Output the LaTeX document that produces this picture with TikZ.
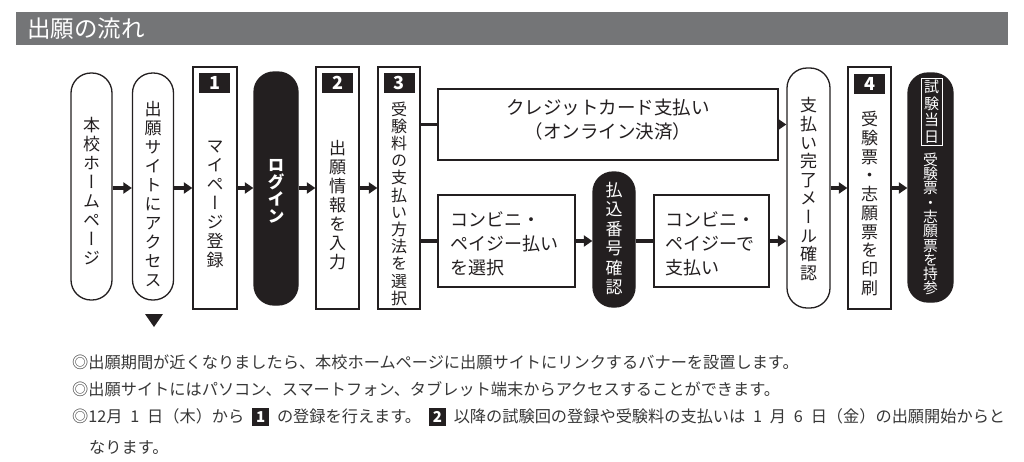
\documentclass[tikz,border=0pt]{standalone}
\usepackage{fontspec}
\setmainfont{Noto Sans CJK JP}
\newfontfamily\vf[RawFeature=+vert]{Noto Sans CJK JP}
\usetikzlibrary{arrows.meta}
\definecolor{barg}{RGB}{116,117,119}
\definecolor{ink}{RGB}{35,31,32}
\definecolor{txt}{RGB}{55,55,55}
\newcommand\inlab[1]{{\setlength\fboxsep{1.5pt}\colorbox{ink}{\makebox[14pt]{\rule[-2.5pt]{0pt}{15pt}\textcolor{white}{\bfseries\fontsize{15}{15}\selectfont #1}}}}}
\tikzset{
 pill/.style={draw=ink, line width=1.3pt, rounded corners=20pt, fill=white, inner sep=0pt},
 pillb/.style={pill, fill=ink},
 rbox/.style={draw=ink, line width=1.3pt, fill=white, inner sep=0pt},
 numlab/.style={fill=ink, text=white, font=\bfseries\fontsize{18}{18}\selectfont, minimum width=31pt, minimum height=20pt, inner sep=0pt},
 vt/.style={align=center, text=ink, inner sep=0pt, font=\vf\fontsize{17}{19}\selectfont},
 ht/.style={text=ink, inner sep=0pt, font=\fontsize{18}{24}\selectfont},
 bt/.style={anchor=west, text=txt, inner sep=0pt, font=\fontsize{16.2}{16.2}\selectfont},
 arr/.style={line width=3.5pt, draw=ink, -{Triangle[length=8.5pt,width=11pt]}},
 ln/.style={line width=3.5pt, draw=ink},
}
\begin{document}
\begin{tikzpicture}[x=1pt,y=-1pt]
\useasboundingbox (0,0) rectangle (1024,461);
% title
\fill[barg] (16,12) rectangle (1008,45);
\node[anchor=west, text=white, inner sep=0pt, font=\fontsize{23.5}{23.5}\selectfont] (title) at (27,29) {出願の流れ};
% boxes
\node[pill, minimum width=41pt, minimum height=227pt] (home) at (91.5,186.5) {};
\node[pill, minimum width=41pt, minimum height=227pt] (site) at (153,186.5) {};
\node[rbox, minimum width=44pt, minimum height=242pt] (b1) at (215,188) {};
\node[pillb, minimum width=44pt, minimum height=233pt] (login) at (276,188.5) {};
\node[rbox, minimum width=43pt, minimum height=242pt] (b2) at (337.5,188) {};
\node[rbox, minimum width=42pt, minimum height=242pt] (b3) at (399,188) {};
\node[rbox, minimum width=340pt, minimum height=71pt] (credit) at (608,124.5) {};
\node[rbox, minimum width=137pt, minimum height=92pt] (cv1) at (506.5,241) {};
\node[pillb, minimum width=42pt, minimum height=135pt] (hk) at (614,239.5) {};
\node[rbox, minimum width=115pt, minimum height=92pt] (cv2) at (711.5,241) {};
\node[pill, minimum width=43pt, minimum height=240pt] (done) at (808.5,188) {};
\node[rbox, minimum width=43pt, minimum height=242pt] (b4) at (869.5,188) {};
\node[pillb, minimum width=45pt, minimum height=229pt] (day) at (930.5,187.5) {};
% number labels
\node[numlab] (n1) at (214.5,83) {1};
\node[numlab] (n2) at (337.5,83) {2};
\node[numlab] (n3) at (399,83) {3};
\node[numlab] (n4) at (869.5,84) {4};
% texts
\node[vt] (homet) at (91.5,191) {本\\校\\ホ\\ー\\ム\\ペ\\ー\\ジ};
\node[vt] (sitet) at (153,194.5) {出\\願\\サ\\イ\\ト\\に\\ア\\ク\\セ\\ス};
\node[vt] (b1t) at (215,204) {マ\\イ\\ペ\\ー\\ジ\\登\\録};
\node[vt, text=white, font=\vf\bfseries\fontsize{17}{17}\selectfont] (logint) at (276,191) {ロ\\グ\\イ\\ン};
\node[vt] (b2t) at (337.5,205) {出\\願\\情\\報\\を\\入\\力};
\node[vt, font=\vf\fontsize{16}{17.2}\selectfont] (b3t) at (399,203.5) {受\\験\\料\\の\\支\\払\\い\\方\\法\\を\\選\\択};
\node[ht, align=center, font=\fontsize{18.5}{24}\selectfont] (creditt) at (608,120) {クレジットカード支払い\\（オンライン決済）};
\node[ht, align=left, anchor=west] (cv1t) at (450,244) {コンビニ・\\ペイジー払い\\を選択};
\node[vt, text=white, font=\vf\fontsize{17}{19.5}\selectfont] (hkt) at (614,238.5) {払\\込\\番\\号\\確\\認};
\node[ht, align=left, anchor=west] (cv2t) at (665,244) {コンビニ・\\ペイジーで\\支払い};
\node[vt, font=\vf\fontsize{17}{18.6}\selectfont] (donet) at (808.5,189) {支\\払\\い\\完\\了\\メ\\ー\\ル\\確\\認};
\node[vt, font=\vf\fontsize{17}{18.7}\selectfont] (b4t) at (869.5,203.5) {受\\験\\票\\・\\志\\願\\票\\を\\印\\刷};
\node[draw=white, line width=1pt, minimum width=21pt, minimum height=67pt, inner sep=0pt] (dayb) at (931.5,111.5) {};
\node[vt, text=white, font=\vf\fontsize{15}{16.5}\selectfont] (daybt) at (931.5,111.5) {試\\験\\当\\日};
\node[vt, text=white, font=\vf\fontsize{14.8}{14.3}\selectfont] (dayt) at (930.5,224) {受\\験\\票\\・\\志\\願\\票\\を\\持\\参};
% connectors
\coordinate (m) at (0,188);
\draw[arr] (home.east |- m) -- (site.west |- m);
\draw[arr] (site.east |- m) -- (b1.west |- m);
\draw[arr] (b1.east |- m) -- (login.west |- m);
\draw[arr] (login.east |- m) -- (b2.west |- m);
\draw[arr] (b2.east |- m) -- (b3.west |- m);
\draw[ln] (b3.east |- credit.west) -- (credit.west);
\draw[ln] (b3.east |- cv1.west) -- (cv1.west);
\draw[arr] (cv1.east) -- (hk.west |- cv1.east);
\draw[ln] (hk.east |- cv2.west) -- (cv2.west);
\draw[arr] (credit.east) -- (done.west |- credit.east);
\draw[arr] (cv2.east) -- (done.west |- cv2.east);
\draw[arr] (done.east |- m) -- (b4.west |- m);
\draw[arr] (b4.east |- m) -- (day.west |- m);
\fill[ink] (145,314) -- (163,314) -- (154,327) -- cycle;
% bottom text
\node[bt] (t1) at (72,362) {◎出願期間が近くなりましたら、本校ホームページに出願サイトにリンクするバナーを設置します。};
\node[bt] (t2) at (72,389) {◎出願サイトにはパソコン、スマートフォン、タブレット端末からアクセスすることができます。};
\node[bt] (t3) at (72,417) {\makebox[933pt][s]{◎12月\hfil 1\hfil 日（木）から\hfil\inlab{1}\hfil の登録を行えます。\hfil\inlab{2}\hfil 以降の試験回の登録や受験料の支払いは\hfil 1\hfil 月\hfil 6\hfil 日（金）の出願開始からと}};
\node[bt] (t4) at (89,447) {なります。};
\end{tikzpicture}
\end{document}
